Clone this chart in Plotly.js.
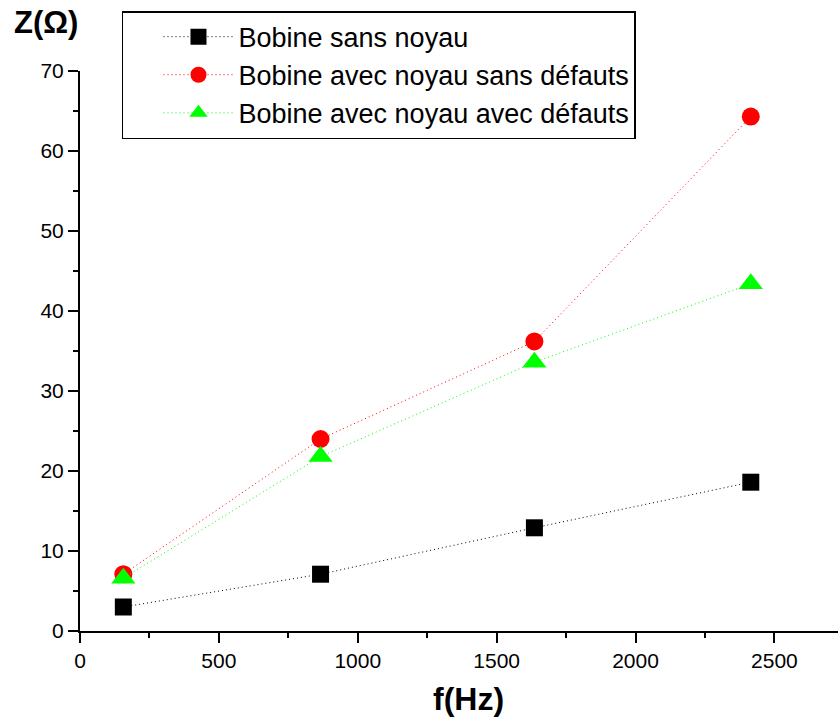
<!DOCTYPE html>
<html>
<head>
<meta charset="utf-8">
<script src="https://cdn.plot.ly/plotly-3.0.1.min.js"></script>
<style>html,body{margin:0;padding:0;background:#fff;}#chart{width:838px;height:722px;}</style>
</head>
<body>
<div id="chart"></div>
<script>
// Data
const freq = [156, 866, 1636, 2415];
const zSansNoyau = [3.0, 7.1, 12.9, 18.6];
const zNoyauSansDefauts = [7.1, 24.0, 36.2, 64.3];
const zNoyauAvecDefauts = [6.6, 21.8, 33.6, 43.4];
const seriesNames = ["Bobine sans noyau", "Bobine avec noyau sans défauts", "Bobine avec noyau avec défauts"];
const xTitle = "f(Hz)";
const yTitle = "Z(Ω)";

const FONT = "Liberation Sans, Arial, sans-serif";

const traces = [
  {x: freq, y: zSansNoyau, name: seriesNames[0], mode: "lines+markers",
   line: {color: "#000000", width: 1, dash: "1px,3px"},
   marker: {symbol: "square", size: 17, color: "#000000", line: {width: 0}}},
  {x: freq, y: zNoyauSansDefauts, name: seriesNames[1], mode: "lines+markers",
   line: {color: "#ff0000", width: 1, dash: "1px,3px"},
   marker: {symbol: "circle", size: 18, color: "#ff0000", line: {width: 0}}},
  {x: freq, y: zNoyauAvecDefauts, name: seriesNames[2], mode: "lines+markers",
   line: {color: "#00ff00", width: 1, dash: "1px,3px"},
   marker: {symbol: "triangle-up", size: 21, color: "#00ff00", line: {width: 0}}}
];

const layout = {
  width: 838, height: 722,
  margin: {l: 80, r: 0, t: 71, b: 91, pad: 0},
  paper_bgcolor: "#ffffff", plot_bgcolor: "#ffffff",
  font: {family: FONT, color: "#000000"},
  showlegend: true,
  legend: {
    x: 0.0554, y: 1.107, xanchor: "left", yanchor: "top",
    bordercolor: "#000000", borderwidth: 1.5, bgcolor: "#ffffff",
    font: {family: FONT, size: 27, color: "#000000"},
    indentation: 35, itemwidth: 70, tracegroupgap: 0
  },
  xaxis: {
    range: [0, 2729], tickvals: [0, 500, 1000, 1500, 2000, 2500],
    showgrid: false, zeroline: false, showline: true, linecolor: "#000000", linewidth: 2,
    ticks: "outside", ticklen: 10, tickwidth: 2, tickcolor: "#000000",
    tickfont: {family: FONT, size: 21, color: "#000000"},
    minor: {dtick: 250, tick0: 0, ticks: "outside", ticklen: 5, tickwidth: 2, tickcolor: "#000000", showgrid: false},
    fixedrange: true
  },
  yaxis: {
    range: [0, 70], dtick: 10, tick0: 0,
    showgrid: false, zeroline: false, showline: true, linecolor: "#000000", linewidth: 2,
    ticks: "outside", ticklen: 10, tickwidth: 2, tickcolor: "#000000",
    tickfont: {family: FONT, size: 21, color: "#000000"},
    minor: {dtick: 5, tick0: 0, ticks: "outside", ticklen: 5, tickwidth: 2, tickcolor: "#000000", showgrid: false},
    fixedrange: true
  },
  annotations: [
    {text: "<b>" + yTitle + "</b>", xref: "paper", yref: "paper", x: -0.0897, y: 1.0875,
     xanchor: "left", yanchor: "middle", showarrow: false, font: {family: FONT, size: 31, color: "#000000"}},
    {text: "<b>" + xTitle + "</b>", xref: "paper", yref: "paper", x: 0.513, y: -0.121,
     xanchor: "center", yanchor: "middle", showarrow: false, font: {family: FONT, size: 32, color: "#000000"}}
  ]
};

Plotly.newPlot("chart", traces, layout, {displayModeBar: false, staticPlot: true});
</script>
</body>
</html>
